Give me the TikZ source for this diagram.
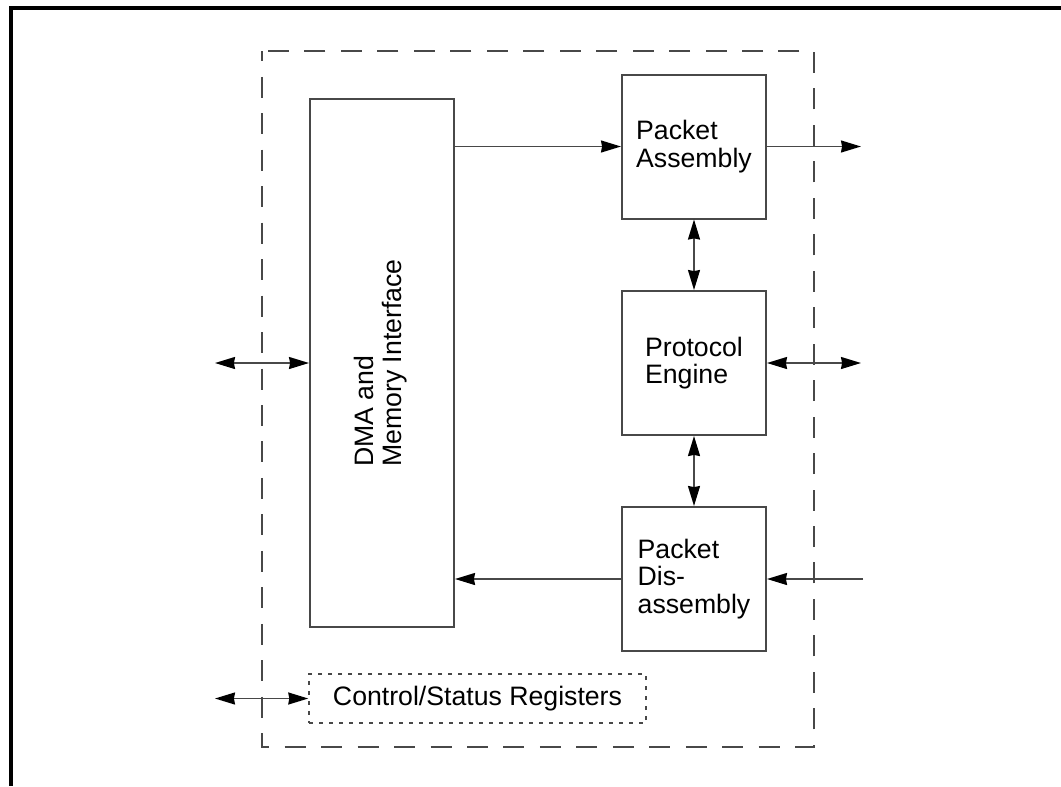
\documentclass[tikz,border=0pt]{standalone}
\usepackage{fontspec}
\setmainfont{Liberation Sans}
\usetikzlibrary{arrows.meta}
\definecolor{linegray}{RGB}{72,72,72}

\begin{document}
\begin{tikzpicture}[x=0.75pt,y=0.75pt,yscale=-1,xscale=1,
  >={Stealth[length=15pt,width=9pt,inset=0.8pt,color=black]},
  blockbox/.style={draw=linegray, line width=1.5pt, minimum width=108pt, minimum height=108pt, inner sep=0pt, align=left, font=\fontsize{20}{20.5}\selectfont},
  link/.style={draw=linegray, line width=1.25pt},
  regbox/.style={draw=linegray, line width=1.1pt, dash pattern=on 3pt off 4.5pt, minimum width=252.75pt, minimum height=36.75pt, inner sep=0pt, font=\fontsize{20}{20.5}\selectfont}]
\useasboundingbox (0,0) rectangle (1061,786);

%Page frame
\draw [line width=2.4pt, line join=miter] (1061,8) -- (11,8) -- (11,786) ;
%Chip boundary
\draw [draw=linegray, line width=1.35pt, dash pattern=on 15.75pt off 11.6pt, dash phase=8pt] (262,51) rectangle (814,747) ;

% Blocks
\node [blockbox, minimum height=396pt] (dma) at (382,363) {\rotatebox{90}{\begin{tabular}{@{}l@{}}DMA and\\Memory Interface\end{tabular}}};
\node [blockbox] (pasm) at (694,146.5) {Packet\\Assembly};
\node [blockbox] (peng) at (694,363) {Protocol\\Engine};
\node [blockbox] (pdis) at (694,579) {Packet\\Dis-\\assembly};
\node [regbox] (csr) at (477.5,698.5) {Control/Status Registers};

% Free ends
\coordinate (asmout) at (861,146.5);
\coordinate (engout) at (861,363);
\coordinate (disin) at (863,579);
\coordinate (hostbus) at (215,363);
\coordinate (csrbus) at (215,698.5);

% Connectors
\draw [link, ->] (dma.east |- pasm.west) -- (pasm.west) ;
\draw [link, ->] (pasm.east) -- (asmout) ;
\draw [link, <->] (pasm.south) -- (peng.north) ;
\draw [link, <->] (peng.east) -- (engout) ;
\draw [link, <->] (peng.south) -- (pdis.north) ;
\draw [link, ->] (disin) -- (pdis.east) ;
\draw [link, ->] (pdis.west) -- (pdis.west -| dma.east) ;
\draw [link, <->] (hostbus) -- (dma.west) ;
\draw [link, <->] (csrbus) -- (csr.west) ;

\end{tikzpicture}
\end{document}
